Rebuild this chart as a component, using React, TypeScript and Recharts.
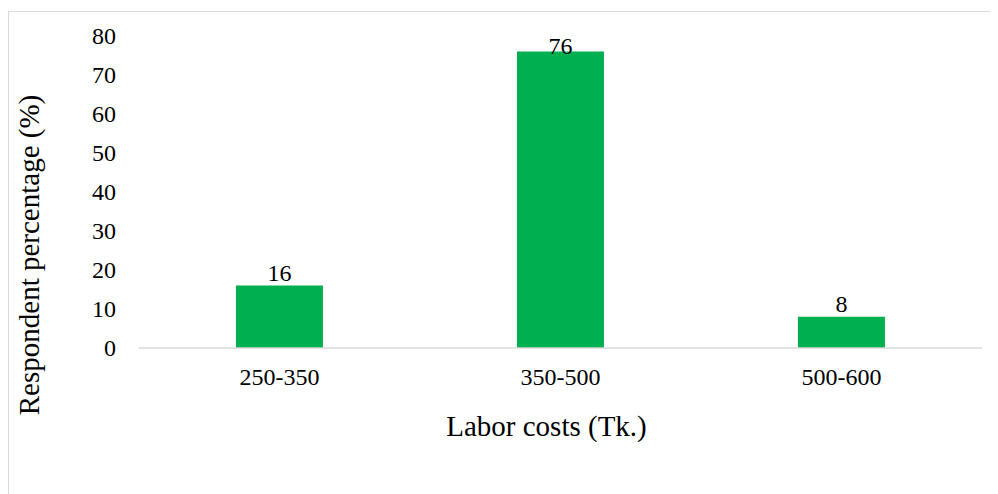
import React from "react";
import { BarChart, Bar, XAxis, YAxis, LabelList, Label } from "recharts";

const categories = ["250-350", "350-500", "500-600"];
const respondentPct = [16, 76, 8];
const yTicks = [0, 10, 20, 30, 40, 50, 60, 70, 80];

const data = categories.map((c, i) => ({ cat: c, value: respondentPct[i] }));

const FONT = "'Liberation Serif', 'Times New Roman', serif";
const MARGIN = { top: 24, right: 16, left: 0, bottom: 86 };

const BarTopLabel = (props: any) => {
  const { x, y, width, value } = props;
  const minBaseline = MARGIN.top + 18;
  const by = Math.max(y - 5, minBaseline);
  return (
    <text x={x + width / 2} y={by} textAnchor="middle" fontFamily={FONT} fontSize={24} fill="#000">
      {value}
    </text>
  );
};

const XTick = (props: any) => {
  const { x, y, payload } = props;
  return (
    <text x={x} y={y + 17} textAnchor="middle" fontFamily={FONT} fontSize={24} fill="#000">
      {payload.value}
    </text>
  );
};

const YTick = (props: any) => {
  const { x, y, payload } = props;
  return (
    <text x={x} y={y} dy={8} textAnchor="end" fontFamily={FONT} fontSize={24} fill="#000">
      {payload.value}
    </text>
  );
};

const YTitle = (props: any) => {
  const vb = props.viewBox;
  const cx = vb.x + 20;
  const cy = vb.y + vb.height / 2 + 63;
  return (
    <text
      x={cx}
      y={cy}
      transform={`rotate(-90, ${cx}, ${cy})`}
      textAnchor="middle"
      dominantBaseline="central"
      fontFamily={FONT}
      fontSize={29}
      fill="#000"
    >
      Respondent percentage (%)
    </text>
  );
};

const XTitle = (props: any) => {
  const vb = props.viewBox;
  const cx = vb.x + vb.width / 2 - 14;
  const cy = vb.y + 88;
  return (
    <text x={cx} y={cy} textAnchor="middle" fontFamily={FONT} fontSize={29} fill="#000">
      Labor costs (Tk.)
    </text>
  );
};

export default function App() {
  return (
    <div
      style={{
        marginTop: 3,
        width: 989,
        height: 482,
        borderTop: "1px solid #d9d9d9",
        borderLeft: "1px solid #d9d9d9",
        background: "#fff",
        overflow: "hidden",
        fontFamily: FONT,
      }}
    >
      <BarChart width={989} height={482} data={data} margin={MARGIN} barCategoryGap="34.5%" style={{ fontFamily: FONT }}>
        <XAxis
          dataKey="cat"
          height={60}
          axisLine={{ stroke: "#d9d9d9", strokeWidth: 1.5 }}
          tickLine={false}
          tickSize={0}
          tickMargin={20}
          tick={<XTick />}
        >
          <Label content={<XTitle />} />
        </XAxis>
        <YAxis
          width={130}
          domain={[0, 80]}
          ticks={yTicks}
          interval={0}
          axisLine={false}
          tickLine={false}
          tickSize={0}
          tickMargin={23}
          tick={<YTick />}
        >
          <Label content={<YTitle />} />
        </YAxis>
        <Bar dataKey="value" fill="#00B050" isAnimationActive={false}>
          <LabelList dataKey="value" content={<BarTopLabel />} />
        </Bar>
      </BarChart>
    </div>
  );
}
